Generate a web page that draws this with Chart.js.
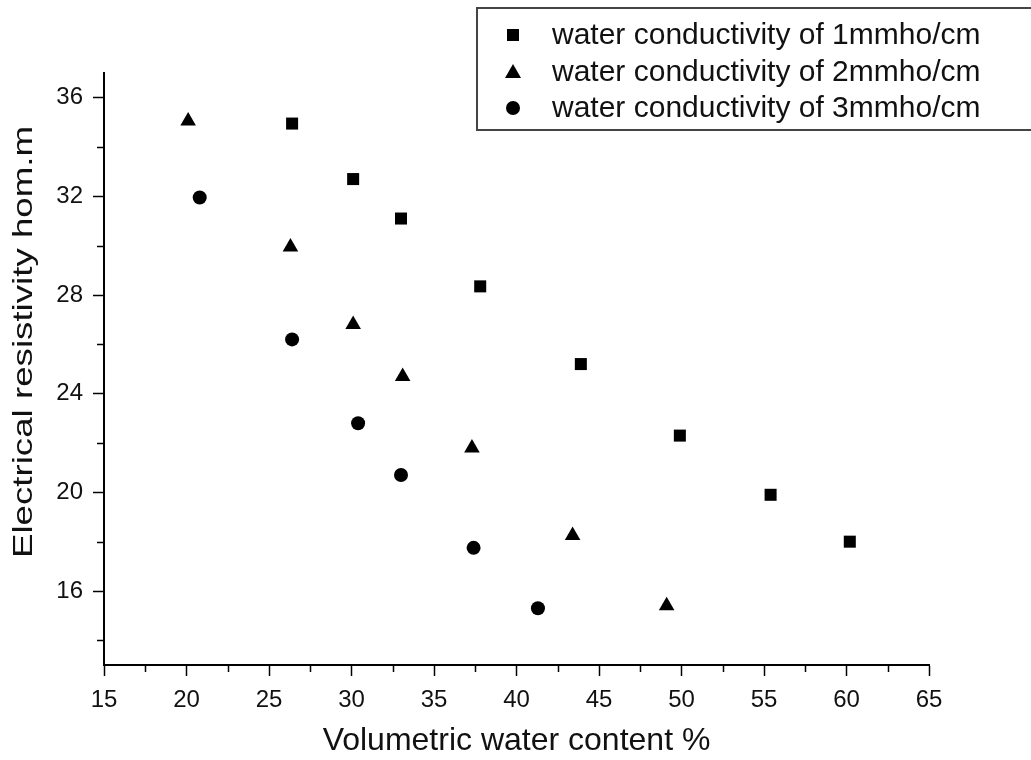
<!DOCTYPE html>
<html>
<head>
<meta charset="utf-8">
<script src="https://cdn.jsdelivr.net/npm/chart.js@4/dist/chart.umd.min.js"></script>
<style>
  html, body { margin: 0; padding: 0; background: #fff; }
  canvas { display: block; }
</style>
</head>
<body>
<canvas id="scatterPlot" width="1031" height="760"></canvas>
<script>
// values
var labels1 = 'water conductivity of 1mmho/cm';
var x1 = [26.4, 30.1, 33.0, 37.8, 43.9, 49.9, 55.4, 60.2];
var y1 = [34.95, 32.7, 31.1, 28.35, 25.2, 22.3, 19.9, 18.0];

var labels2 = 'water conductivity of 2mmho/cm';
var x2 = [20.1, 26.3, 30.1, 33.1, 37.3, 43.4, 49.1];
var y2 = [35.05, 29.95, 26.8, 24.7, 21.8, 18.25, 15.4];

var labels3 = 'water conductivity of 3mmho/cm';
var x3 = [20.8, 26.4, 30.4, 33.0, 37.4, 41.3];
var y3 = [31.95, 26.2, 22.8, 20.7, 17.75, 15.3];

var xTickLabels = [15, 20, 25, 30, 35, 40, 45, 50, 55, 60, 65];
var xMinorTicks = [17.5, 22.5, 27.5, 32.5, 37.5, 42.5, 47.5, 52.5, 57.5, 62.5];
var yTickLabels = [16, 20, 24, 28, 32, 36];
var yMinorTicks = [14, 18, 22, 26, 30, 34];

var xTitle = 'Volumetric water content %';
var yTitle = 'Electrical resistivity hom.m';

function pts(xs, ys) {
    return xs.map(function (x, i) { return { x: x, y: ys[i] }; });
}

var FONT = '"Liberation Sans", Arial, sans-serif';

// short minor ticks, drawn through the scales
var minorTicks = {
    id: 'minorTicks',
    afterDraw: function (chart) {
        var ctx = chart.ctx;
        var xs = chart.scales.x, ys = chart.scales.y;
        ctx.save();
        ctx.strokeStyle = '#000';
        ctx.lineWidth = 1.5;
        ctx.beginPath();
        xMinorTicks.forEach(function (v) {
            var px = Math.round(xs.getPixelForValue(v)) + 0.5;
            ctx.moveTo(px, xs.top);
            ctx.lineTo(px, xs.top + 7);
        });
        yMinorTicks.forEach(function (v) {
            var py = Math.round(ys.getPixelForValue(v)) + 0.5;
            ctx.moveTo(ys.right, py);
            ctx.lineTo(ys.right - 7, py);
        });
        ctx.stroke();
        ctx.restore();
    }
};

// y title: the original is a bit stretched along its length and sits above centre
var yAxisTitle = {
    id: 'yAxisTitle',
    afterDraw: function (chart) {
        var ctx = chart.ctx;
        ctx.save();
        ctx.translate(24, 342);
        ctx.rotate(-Math.PI / 2);
        ctx.scale(1.31, 1);
        ctx.font = '28px ' + FONT;
        ctx.fillStyle = '#111';
        ctx.textAlign = 'center';
        ctx.textBaseline = 'middle';
        ctx.fillText(yTitle, 0, 0);
        ctx.restore();
    }
};

// boxed legend in the top right corner
var boxLegend = {
    id: 'boxLegend',
    afterDraw: function (chart) {
        var ctx = chart.ctx;
        ctx.save();
        ctx.strokeStyle = '#444';
        ctx.lineWidth = 2;
        ctx.strokeRect(477, 8, 600, 122);
        ctx.font = '30px ' + FONT;
        ctx.textBaseline = 'middle';
        var rows = [35, 72, 108];
        chart.data.datasets.forEach(function (ds, i) {
            var cx = 513, cy = rows[i];
            ctx.fillStyle = '#000';
            ctx.beginPath();
            if (ds.pointStyle === 'rect') {
                ctx.rect(cx - 6, cy - 6, 12, 12);
            } else if (ds.pointStyle === 'triangle') {
                ctx.moveTo(cx, cy - 8);
                ctx.lineTo(cx + 8, cy + 6);
                ctx.lineTo(cx - 8, cy + 6);
                ctx.closePath();
            } else {
                ctx.arc(cx, cy, 7, 0, Math.PI * 2);
            }
            ctx.fill();
            ctx.fillStyle = '#111';
            ctx.fillText(ds.label, 552, cy + 1);
        });
        ctx.restore();
    }
};

var ctx = document.getElementById('scatterPlot').getContext('2d');
var chart = new Chart(ctx, {
    type: 'scatter',
    data: {
        datasets: [{
            label: labels1,
            data: pts(x1, y1),
            pointStyle: 'rect',
            pointRadius: 8.5,
            backgroundColor: '#000',
            borderColor: '#000',
            borderWidth: 0
        }, {
            label: labels2,
            data: pts(x2, y2),
            pointStyle: 'triangle',
            pointRadius: 9,
            backgroundColor: '#000',
            borderColor: '#000',
            borderWidth: 0
        }, {
            label: labels3,
            data: pts(x3, y3),
            pointStyle: 'circle',
            pointRadius: 7,
            backgroundColor: '#000',
            borderColor: '#000',
            borderWidth: 0
        }]
    },
    options: {
        responsive: false,
        animation: false,
        layout: { padding: { top: 73, right: 102, left: 0, bottom: 0 } },
        plugins: {
            legend: { display: false },
            tooltip: { enabled: false }
        },
        scales: {
            x: {
                type: 'linear',
                min: 15,
                max: 65,
                afterBuildTicks: function (s) {
                    s.ticks = xTickLabels.map(function (v) { return { value: v }; });
                },
                afterFit: function (s) { s.height = 95; },
                border: { display: true, color: '#000', width: 2 },
                grid: { drawOnChartArea: false, tickLength: 11, tickColor: '#000', tickWidth: 1.5 },
                ticks: { color: '#111', font: { size: 24, family: FONT }, padding: 10, maxRotation: 0 },
                title: {
                    display: true,
                    text: xTitle,
                    color: '#111',
                    font: { size: 32, family: FONT },
                    padding: { top: 0, bottom: 0 }
                }
            },
            y: {
                type: 'linear',
                min: 13,
                max: 37,
                afterBuildTicks: function (s) {
                    s.ticks = yTickLabels.map(function (v) { return { value: v }; });
                },
                afterFit: function (s) { s.width = 104; },
                border: { display: true, color: '#000', width: 2 },
                grid: { drawOnChartArea: false, tickLength: 11, tickColor: '#000', tickWidth: 1.5 },
                ticks: { color: '#111', font: { size: 24, family: FONT }, padding: 10 }
            }
        }
    },
    plugins: [minorTicks, yAxisTitle, boxLegend]
});
</script>
</body>
</html>
